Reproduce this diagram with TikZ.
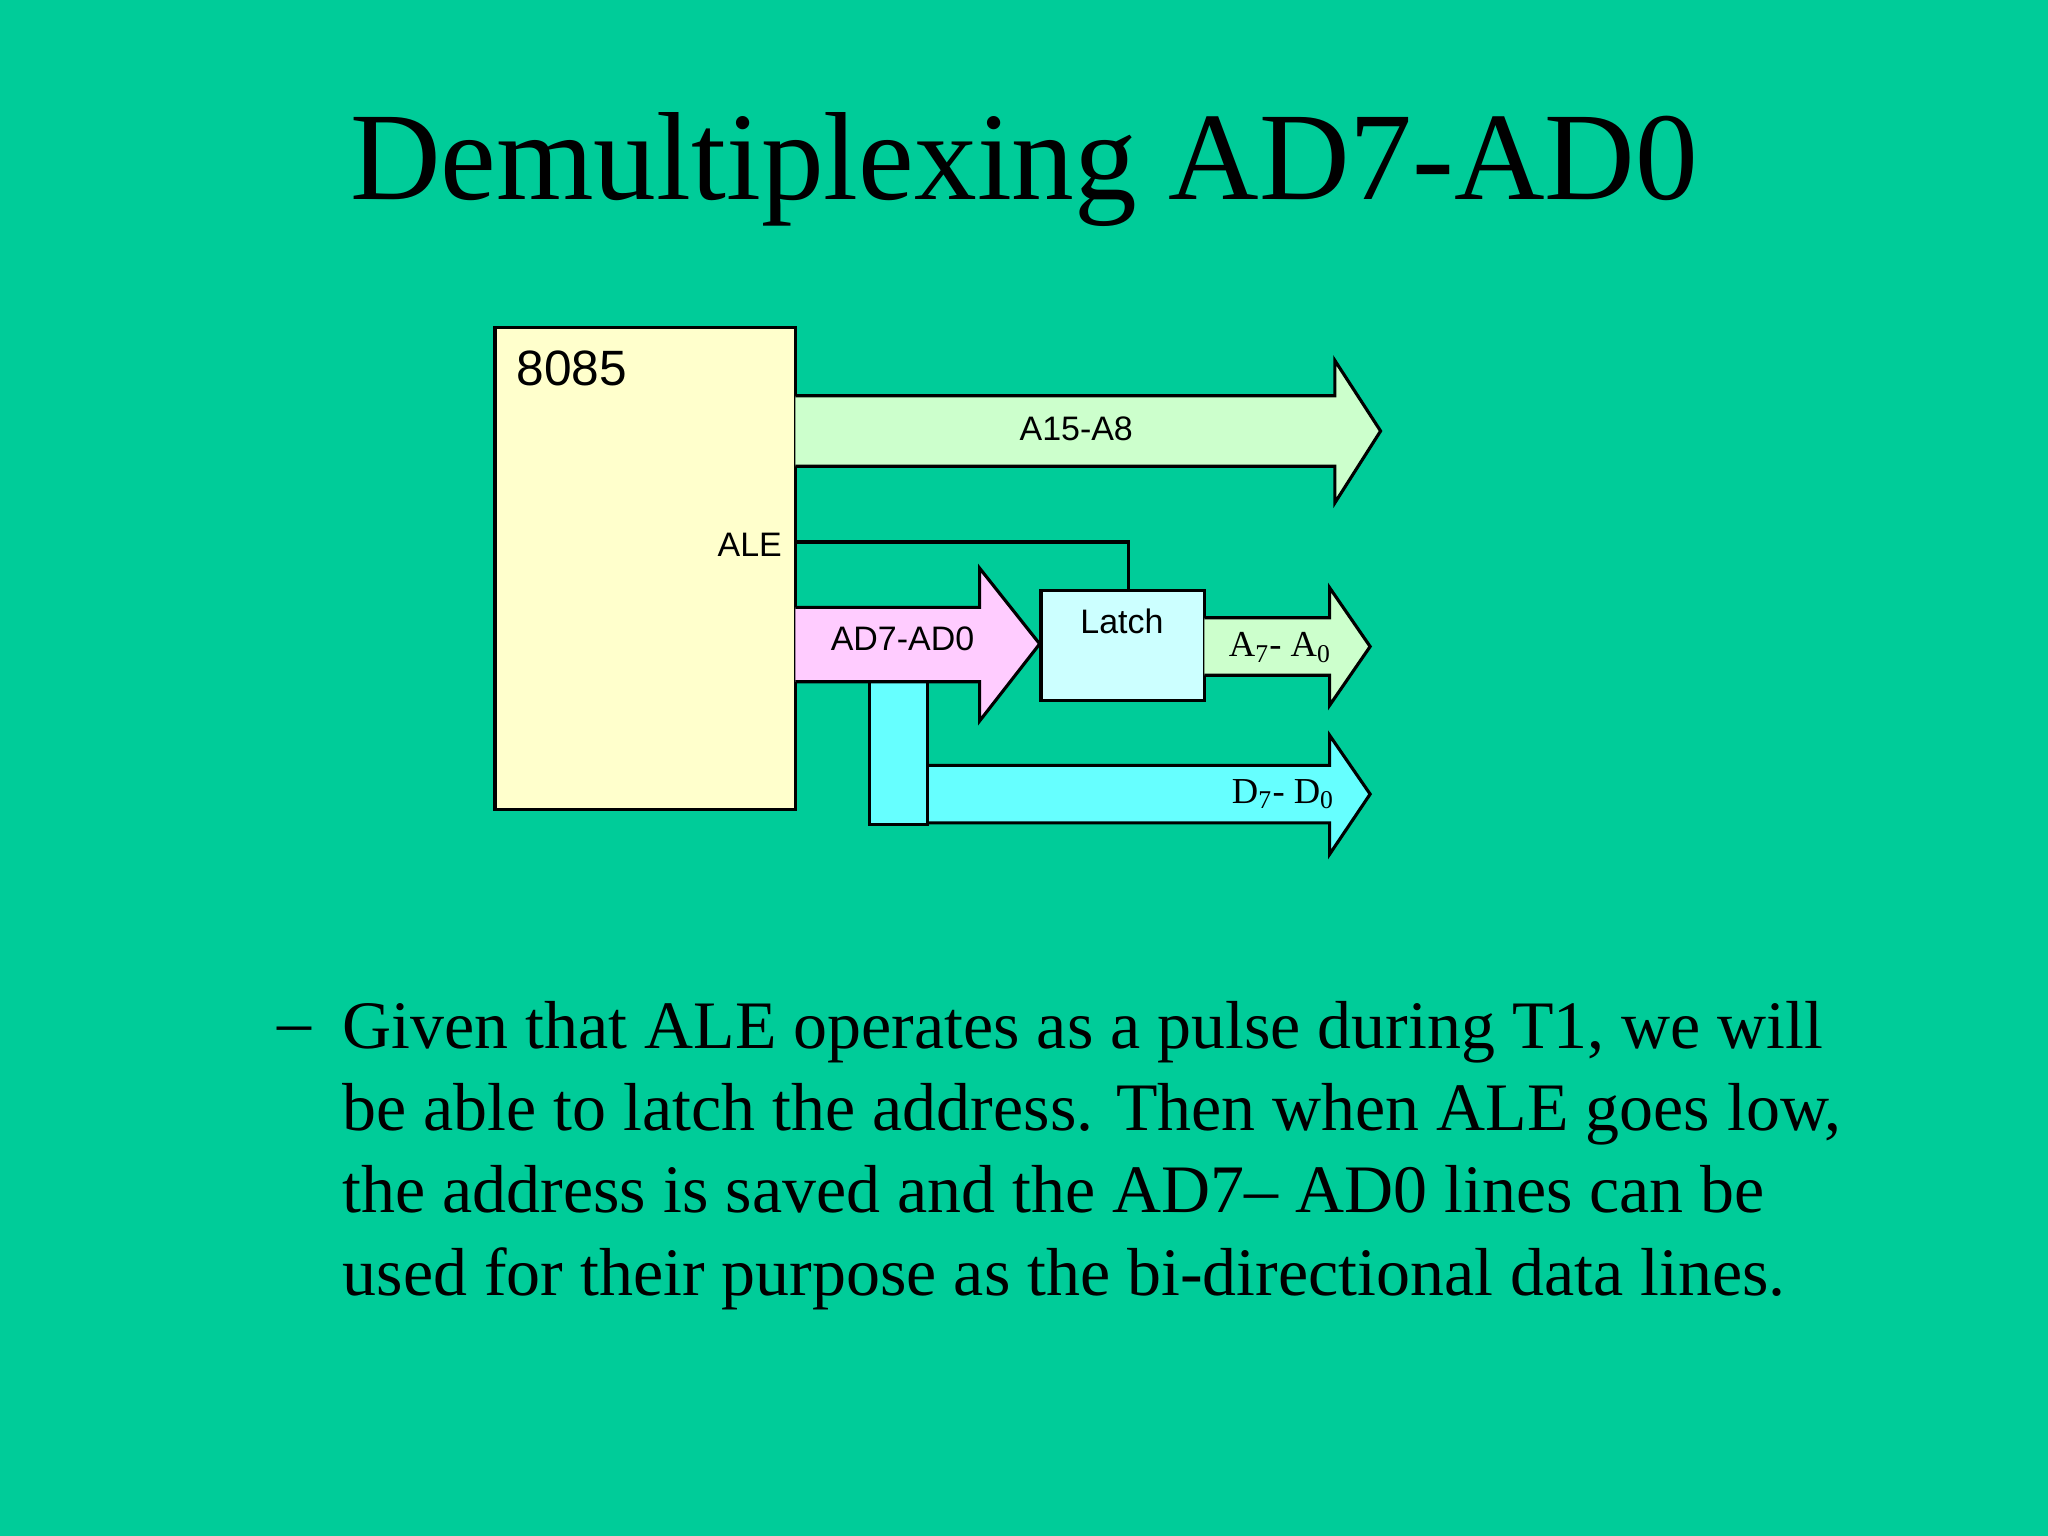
\documentclass[tikz,border=0pt]{standalone}
\usepackage{fontspec}
\setmainfont{Liberation Serif}
\newfontfamily\sans{Liberation Sans}
\begin{document}
\begin{tikzpicture}[x=0.5pt,y=-0.5pt,
  outl/.style={draw=black,line width=1.2pt},
  lab/.style={font=\sans\fontsize{13}{15}\selectfont,inner sep=0},
  slab/.style={font=\fontsize{14}{16}\selectfont,inner sep=0}]
\fill[fill={rgb,255:red,0;green,204;blue,153}] (0,0) rectangle (1568,1176);
\useasboundingbox (0,0) rectangle (1568,1176);
\node[inner sep=0,font=\fontsize{48}{56}\selectfont] (title) at (784,130) {Demultiplexing AD7-AD0};
% 8085
\node[outl,fill={rgb,255:red,255;green,255;blue,204},minimum width=115pt,minimum height=184.5pt,inner sep=0] (cpu) at (494,435.5) {};
\node[inner sep=0,anchor=north west,font=\sans\fontsize{19}{22}\selectfont] (cpul) at (395,268) {8085};
\node[lab,anchor=east] (ale) at (599,417) {ALE};
% A15-A8
\draw[outl,fill={rgb,255:red,204;green,255;blue,204}] (609,303) -- (1022,303) -- (1022,276) -- (1057,330) -- (1022,385) -- (1022,357) -- (609,357);
\node[lab] (a15) at (824,328) {A15-A8};
% Latch
\node[outl,fill={rgb,255:red,204;green,255;blue,255},minimum width=62.5pt,minimum height=42pt,inner sep=0] (latch) at (859.5,494) {};
\node[lab] (latchl) at (859,476) {Latch};
\draw[line width=1.2pt] (609,415) -| (latch.north -| 864,0);
% D7-D0
\draw[outl,fill={rgb,255:red,102;green,255;blue,255}] (710,586) -- (1018,586) -- (1018,563) -- (1049,608) -- (1018,654) -- (1018,630) -- (710,630);
\node[outl,fill={rgb,255:red,102;green,255;blue,255},minimum width=22pt,minimum height=54.5pt,inner sep=0] (bar) at (688,576.5) {};
\node[slab,anchor=east] (d70) at (1022,608) {D\textsubscript{7}- D\textsubscript{0}};
% AD7-AD0
\draw[outl,fill={rgb,255:red,255;green,204;blue,255}] (609,465) -- (750,465) -- (750,435) -- (796,493) -- (750,552) -- (750,522) -- (609,522);
\node[lab] (ad) at (691,489) {AD7-AD0};
% A7-A0
\draw[outl,fill={rgb,255:red,204;green,255;blue,204}] (922,473) -- (1018,473) -- (1018,450) -- (1049,495) -- (1018,540) -- (1018,517) -- (922,517);
\node[slab] (a70) at (980,496) {A\textsubscript{7}- A\textsubscript{0}};
% text
\node[inner sep=0,anchor=base west,font=\fontsize{26}{31.5}\selectfont] (dash) at (212,800) {--};
\node[inner sep=0,anchor=north west,align=left,font=\fontsize{26}{31.5}\selectfont] (body) at (262,766) {Given that ALE operates as a pulse during T1, we will\\be able to latch the address. Then when ALE goes low,\\the address is saved and the AD7-- AD0 lines can be\\used for their purpose as the bi-directional data lines.};
\end{tikzpicture}
\end{document}
